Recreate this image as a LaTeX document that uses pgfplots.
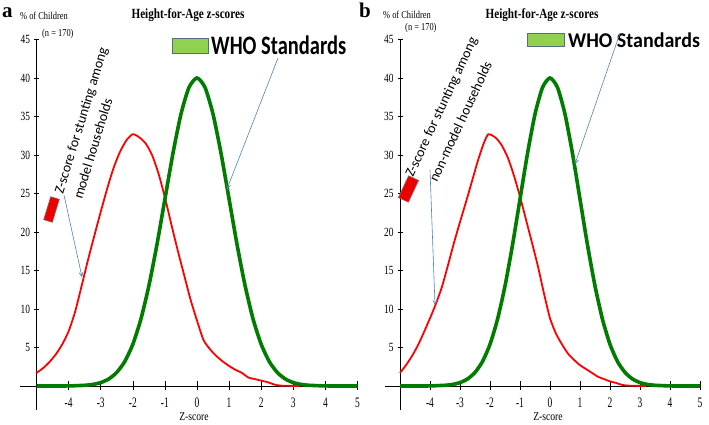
\documentclass[border=0pt]{standalone}
\usepackage{pgfplots}
\pgfplotsset{compat=1.18}
\usepackage{fontspec}
\usepackage{graphicx}
\setmainfont{Liberation Serif}
\newfontfamily\narrow[FakeStretch=0.8]{Liberation Serif}
\newfontfamily\narrowx[FakeStretch=0.65]{Liberation Serif}
\newfontfamily\narrowy[FakeStretch=0.75]{Liberation Serif}
\newfontfamily\calib{Carlito}
\usetikzlibrary{arrows.meta}
\definecolor{whogreen}{RGB}{0,125,0}
\definecolor{boxgreen}{RGB}{146,208,80}
\definecolor{boxedge}{RGB}{85,110,135}
\definecolor{arrowblue}{RGB}{79,129,189}
\definecolor{boxred}{RGB}{235,0,0}

\pgfplotsset{myax/.style={hide axis, clip=false, xmin=-5.5, xmax=5, ymin=-3.1, ymax=45, y=7.7pt, anchor=origin}}

\newcommand{\axisdecor}{%
  \draw[black, line width=0.7pt] (axis cs:-5.5,0) -- (axis cs:5,0);
  \draw[black, line width=0.7pt] (axis cs:-5,-3.1) -- (axis cs:-5,45);
  \pgfplotsinvokeforeach{-4,-3,-2,-1,0,1,2,3,4,5}{
    \draw[black, line width=0.6pt] ([yshift=-4pt]axis cs:##1,0) -- ([yshift=5pt]axis cs:##1,0);
    \node[font=\narrowx\fontsize{14.5}{14.5}\selectfont, anchor=center] at ([yshift=-17pt]axis cs:##1,0) {##1};
  }
  \pgfplotsinvokeforeach{5,10,15,20,25,30,35,40,45}{
    \draw[black, line width=0.6pt] ([xshift=-2.5pt]axis cs:-5,##1) -- ([xshift=2.5pt]axis cs:-5,##1);
    \node[font=\narrowy\fontsize{12.5}{12.5}\selectfont, anchor=east] at ([xshift=-3pt]axis cs:-5,##1) {##1};
  }
}

\newcommand{\whocurve}{%
\addplot[whogreen, line width=3.6pt, smooth, tension=0.4] coordinates {
(-5,0) (-4.5,0) (-4,0.01) (-3.5,0.09) (-3.25,0.20) (-3,0.44) (-2.75,0.91) (-2.5,1.76)
(-2.25,3.18) (-2,5.41) (-1.75,8.65) (-1.5,12.99) (-1.25,18.31) (-1,24.26) (-0.75,30.19)
(-0.5,35.30) (-0.25,38.77) (0,40) (0.25,38.77) (0.5,35.30) (0.75,30.19) (1,24.26)
(1.25,18.31) (1.5,12.99) (1.75,8.65) (2,5.41) (2.25,3.18) (2.5,1.76) (2.75,0.91)
(3,0.44) (3.25,0.20) (3.5,0.09) (4,0.01) (4.5,0) (5,0)};
}

\begin{document}
\begin{tikzpicture}

% ---------- panel a ----------
\begin{axis}[myax, x=32.1pt, at={(197pt,39pt)}]
\axisdecor
\addplot[red, line width=1.8pt, smooth, tension=0.4] coordinates {
(-5.0,1.7) (-4.8,2.3) (-4.6,3.1) (-4.4,4.1) (-4.2,5.4) (-4.0,7.1) (-3.8,9.6)
(-3.6,12.9) (-3.4,16.3) (-3.2,19.5) (-3.0,22.6) (-2.8,25.6) (-2.6,28.3) (-2.4,30.4)
(-2.2,31.9) (-2.0,32.7) (-1.8,32.3) (-1.6,31.5) (-1.4,30.0) (-1.2,27.6) (-1.0,24.5)
(-0.8,21.0) (-0.6,17.6) (-0.4,14.4) (-0.2,11.2) (0.0,8.5) (0.2,6.0) (0.4,4.8)
(0.6,3.9) (0.8,3.2) (1.0,2.6) (1.2,2.1) (1.4,1.7) (1.6,1.1) (1.8,0.9) (2.0,0.7)
(2.2,0.5) (2.4,0.2) (2.6,0.05) (3.2,0.0)};
\whocurve
\node[font=\narrow\fontsize{12}{12}\selectfont] at ([xshift=-3pt,yshift=-31pt]axis cs:0,0) {Z-score};
\end{axis}

% ---------- panel b ----------
\begin{axis}[myax, x=30pt, at={(550pt,39pt)}]
\axisdecor
\addplot[red, line width=1.8pt, smooth, tension=0.4] coordinates {
(-5.0,1.7) (-4.8,2.7) (-4.6,3.9) (-4.4,5.3) (-4.2,7.0) (-4.0,8.8) (-3.8,10.7)
(-3.6,12.9) (-3.4,15.7) (-3.2,18.6) (-3.0,21.3) (-2.8,23.9) (-2.6,26.6) (-2.4,29.3)
(-2.2,31.6) (-2.05,32.7) (-1.8,32.2) (-1.6,31.2) (-1.4,29.6) (-1.2,27.3) (-1.0,24.6)
(-0.8,21.6) (-0.6,18.6) (-0.4,15.5) (-0.2,12.0) (0.0,8.8) (0.2,6.8) (0.4,5.4)
(0.6,4.2) (0.8,3.4) (1.0,2.7) (1.2,2.2) (1.4,1.7) (1.6,1.2) (1.8,0.9) (2.0,0.6)
(2.2,0.4) (2.4,0.15) (2.6,0.05) (3.2,0.0)};
\whocurve
\node[font=\narrow\fontsize{12}{12}\selectfont] at ([xshift=-2pt,yshift=-31pt]axis cs:0,0) {Z-score};
\end{axis}

\begin{scope}[x=1pt,y=-1pt,yshift=425pt]
% ---------- texts panel a ----------
\node[anchor=base west, inner sep=0, font=\bfseries\fontsize{21}{21}\selectfont] at (2,18) {a};
\node[anchor=base west, inner sep=0, font=\narrow\fontsize{10.5}{10.5}\selectfont] at (20,20) {\% of Children};
\node[anchor=base west, inner sep=0, font=\narrow\fontsize{10.5}{10.5}\selectfont] at (42,37) {(n = 170)};
\node[anchor=base, inner sep=0, font=\bfseries\fontsize{14}{14}\selectfont] at (188,19) {\narrow\bfseries Height-for-Age z-scores};
\fill[boxgreen, draw=boxedge, line width=1pt] (172,39) rectangle (208,54);
\node[anchor=base west, inner sep=0, font=\calib\bfseries\fontsize{20.5}{20.5}\selectfont] at (211,55) {\scalebox{1}[1.3]{WHO Standards}};
\draw[arrowblue, line width=0.6pt, -{Straight Barb[length=4pt,width=4pt]}] (278,58) -- (227,189);
\node[rotate=73, fill=boxred, draw=gray!70!red, line width=0.6pt, minimum width=24pt, minimum height=9pt, inner sep=0] at (51.5,209.5) {};
\node[anchor=base west, inner sep=0, rotate=73, font=\calib\fontsize{14}{14}\selectfont] at (63,195) {Z-score for stunting among};
\node[anchor=base west, inner sep=0, rotate=73, font=\calib\fontsize{14}{14}\selectfont] at (82,200) {model households};
\draw[arrowblue, line width=0.6pt, -{Straight Barb[length=4pt,width=4pt]}] (64,195) -- (82,277);

% ---------- texts panel b ----------
\node[anchor=base west, inner sep=0, font=\bfseries\fontsize{21}{21}\selectfont] at (359,18) {b};
\node[anchor=base west, inner sep=0, font=\narrow\fontsize{10.5}{10.5}\selectfont] at (383,19) {\% of Children};
\node[anchor=base west, inner sep=0, font=\narrow\fontsize{10.5}{10.5}\selectfont] at (405,31) {(n = 170)};
\node[anchor=base, inner sep=0, font=\bfseries\fontsize{14}{14}\selectfont] at (542,19) {\narrow\bfseries Height-for-Age z-scores};
\fill[boxgreen, draw=boxedge, line width=1pt] (527,34) rectangle (564,47);
\node[anchor=base west, inner sep=0, font=\calib\bfseries\fontsize{20}{20}\selectfont] at (568,48) {\scalebox{1}[1.05]{WHO Standards}};
\draw[arrowblue, line width=0.6pt, -{Straight Barb[length=4pt,width=4pt]}] (620,33) -- (575,164);
\node[rotate=65, fill=boxred, draw=gray!70!red, line width=0.6pt, minimum width=24pt, minimum height=11pt, inner sep=0] at (408.5,189) {};
\node[anchor=base west, inner sep=0, rotate=65, font=\calib\fontsize{14}{14}\selectfont] at (413,178) {Z-score for stunting among};
\node[anchor=base west, inner sep=0, rotate=65, font=\calib\fontsize{14}{14}\selectfont] at (437,183) {non-model households};
\draw[arrowblue, line width=0.6pt, -{Straight Barb[length=4pt,width=4pt]}] (430,170) -- (435,305);
\end{scope}

\pgfresetboundingbox
\path (0,0) rectangle (709pt,425pt);
\end{tikzpicture}
\end{document}
